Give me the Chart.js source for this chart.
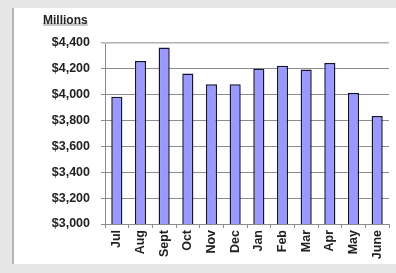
<!DOCTYPE html>
<html>
<head>
<meta charset="utf-8">
<script src="https://cdn.jsdelivr.net/npm/chart.js@4/dist/chart.umd.min.js"></script>
<style>
  html, body { margin: 0; padding: 0; }
  body { width: 396px; height: 273px; background: #e6e6e6; position: relative; overflow: hidden; }
  #panel { position: absolute; left: 12px; top: 8px; right: 0; bottom: 9px; background: #fff; border-left: 2px solid #b4b4b4; }
  #wrap { position: absolute; left: 0; top: 0; width: 396px; height: 273px; }
</style>
</head>
<body>
<div id="panel"></div>
<div id="wrap"><canvas id="myChart"></canvas></div>
<script>
const months = ['Jul', 'Aug', 'Sept', 'Oct', 'Nov', 'Dec', 'Jan', 'Feb', 'Mar', 'Apr', 'May', 'June'];
const revenue = [3985, 4260, 4365, 4165, 4080, 4080, 4200, 4225, 4195, 4245, 4015, 3835];
const yMin = 3000;
const yMax = 4400;
const yStep = 200;
const unitLabel = 'Millions';

const font = { family: 'Liberation Sans, Arial, Helvetica, sans-serif', size: 12.5, weight: 'bold' };

// "Millions" note above the value axis, underlined with a grey bar
const unitNote = {
    id: 'unitNote',
    afterDraw(chart) {
        const ctx = chart.ctx;
        ctx.save();
        ctx.font = 'bold 12px ' + font.family;
        ctx.textBaseline = 'alphabetic';
        const w = ctx.measureText(unitLabel).width;
        ctx.fillStyle = '#c8c8c8';
        ctx.fillRect(43, 23, w, 3);
        ctx.fillStyle = '#222';
        ctx.fillText(unitLabel, 43, 24);
        ctx.restore();
    }
};

const data = {
    labels: months,
    datasets: [{
        data: revenue,
        backgroundColor: '#9999ff',
        borderColor: '#141433',
        borderWidth: 1.5,
        borderSkipped: false,
        barPercentage: 0.47,
        categoryPercentage: 1
    }]
};

const config = {
    type: 'bar',
    data: data,
    plugins: [unitNote],
    options: {
        responsive: false,
        animation: false,
        layout: { padding: { left: 0, top: 43, right: 7, bottom: 0 } },
        plugins: {
            legend: { display: false },
            tooltip: { enabled: false }
        },
        scales: {
            x: {
                grid: {
                    offset: true,
                    drawOnChartArea: false,
                    drawTicks: true,
                    tickLength: 4,
                    color: '#8c8c8c'
                },
                border: { display: true, color: '#8c8c8c' },
                ticks: {
                    color: '#222',
                    font: font,
                    minRotation: 90,
                    maxRotation: 90,
                    autoSkip: false,
                    padding: 2
                },
                afterFit(scale) { scale.height = 49; }
            },
            y: {
                min: yMin,
                max: yMax,
                grid: {
                    color: (c) => c.tick && c.tick.value === yMax ? '#b0b0b0' : '#8c8c8c',
                    lineWidth: (c) => c.tick && c.tick.value === yMax ? 1.5 : 1,
                    tickLength: 4
                },
                border: { display: true, color: '#8c8c8c' },
                ticks: {
                    stepSize: yStep,
                    color: '#222',
                    font: font,
                    padding: 11,
                    callback: (v) => '$' + v.toLocaleString('en-US')
                },
                afterFit(scale) { scale.width = 105; }
            }
        }
    }
};

const canvas = document.getElementById('myChart');
canvas.width = 396;
canvas.height = 273;
new Chart(canvas, config);
</script>
</body>
</html>
